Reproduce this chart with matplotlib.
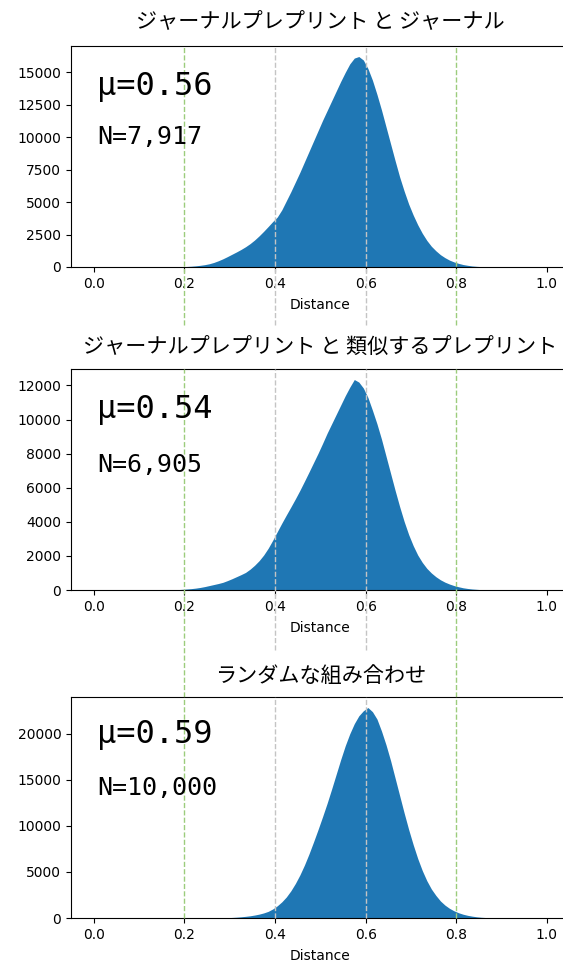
import numpy as np
import matplotlib
matplotlib.use("Agg")
import matplotlib.pyplot as plt

# histogram bin centres (step 0.01) and counts in thousands
centers_jj = np.round(np.arange(0.205, 0.87, 0.01), 3)
counts_jj = [0.04, 0.06, 0.09, 0.13, 0.18, 0.25, 0.35, 0.48, 0.63, 0.80,
             0.98, 1.16, 1.35, 1.56, 1.80, 2.08, 2.40, 2.75, 3.12, 3.50,
             3.85, 4.40, 5.10, 5.80, 6.55, 7.30, 8.10, 8.90, 9.70, 10.50,
             11.30, 12.05, 12.80, 13.55, 14.30, 15.00, 15.65, 16.10, 16.22, 15.95,
             15.30, 14.40, 13.30, 12.10, 10.80, 9.50, 8.20, 6.95, 5.85, 4.85,
             4.00, 3.25, 2.60, 2.05, 1.60, 1.25, 0.95, 0.72, 0.53, 0.39,
             0.28, 0.19, 0.13, 0.08, 0.05, 0.03, 0.02]

centers_js = np.round(np.arange(0.185, 0.86, 0.01), 3)
counts_js = [0.02, 0.04, 0.06, 0.08, 0.11, 0.15, 0.20, 0.26, 0.32, 0.38,
             0.45, 0.55, 0.66, 0.78, 0.90, 1.03, 1.22, 1.45, 1.72, 2.05,
             2.45, 2.92, 3.42, 3.92, 4.40, 4.87, 5.35, 5.85, 6.38, 6.92,
             7.47, 8.02, 8.60, 9.20, 9.75, 10.30, 10.85, 11.40, 11.90, 12.35,
             12.20, 11.85, 11.30, 10.55, 9.75, 8.85, 7.85, 6.85, 5.85, 4.90,
             4.02, 3.25, 2.60, 2.05, 1.62, 1.27, 1.00, 0.78, 0.60, 0.46,
             0.35, 0.26, 0.19, 0.13, 0.09, 0.06, 0.04, 0.02]

centers_rnd = np.round(np.arange(0.285, 0.88, 0.01), 3)
counts_rnd = [0.02, 0.04, 0.06, 0.09, 0.13, 0.18, 0.24, 0.32, 0.42, 0.55,
              0.72, 0.98, 1.32, 1.75, 2.28, 2.95, 3.75, 4.68, 5.75, 6.95,
              8.25, 9.60, 11.00, 12.45, 14.00, 15.60, 17.20, 18.70, 20.00, 21.10,
              21.95, 22.50, 22.85, 22.40, 21.60, 20.30, 18.80, 17.10, 15.20, 13.30,
              11.40, 9.60, 7.95, 6.45, 5.15, 4.05, 3.15, 2.45, 1.85, 1.40,
              1.05, 0.78, 0.57, 0.41, 0.29, 0.20, 0.13, 0.08, 0.05, 0.03]

titles = ["ジャーナルプレプリント と ジャーナル",
          "ジャーナルプレプリント と 類似するプレプリント",
          "ランダムな組み合わせ"]
means = [0.56, 0.54, 0.59]
sizes = [7917, 6905, 10000]
yticks = [np.arange(0, 15001, 2500), np.arange(0, 12001, 2000), np.arange(0, 20001, 5000)]

panels = [(centers_jj, counts_jj), (centers_js, counts_js), (centers_rnd, counts_rnd)]

fig = plt.figure(figsize=(5.63, 9.67), dpi=100)

left, width, height = 71 / 563, (569.6 - 71) / 563, 221 / 967
bottoms = [1 - 267 / 967, 1 - 590 / 967, 1 - 918 / 967]
# how far the dashed guide lines run below each panel (axes fraction)
gray_ext = [-0.262, -0.27, 0.0]
green_ext = [-0.262, -0.484, 0.0]
text_y = [(0.815, 0.59), (0.815, 0.565), (0.83, 0.59)]
title_pad = [13, 11, 11]

gray = "#c4c4c4"
green = "#9ccc7c"

for i, (centers, counts) in enumerate(panels):
	ax = fig.add_axes([left, bottoms[i], width, height])
	heights = np.array(counts) * 1000
	ax.fill_between(centers, 0, heights, color="#1f77b4", linewidth=0)
	ax.set_xlim(-0.05, 1.05)
	ax.set_ylim(0, heights.max() * 1.05)
	ax.set_yticks(yticks[i])
	ax.set_xticks(np.round(np.arange(0, 1.01, 0.2), 1))
	ax.set_xlabel("Distance", fontsize=10, labelpad=5)
	ax.set_title(titles[i], fontsize=15.2, family=["Noto Sans CJK JP", "DejaVu Sans"], pad=title_pad[i])

	for x in (0.4, 0.6):
		ax.axvline(x, ymin=gray_ext[i], ymax=1, color=gray, linestyle="--", linewidth=1, clip_on=False, zorder=3)
	for x in (0.2, 0.8):
		ax.axvline(x, ymin=green_ext[i], ymax=1, color=green, linestyle="--", linewidth=1, clip_on=False, zorder=3)

	ax.text(0.052, text_y[i][0], "μ={:.2f}".format(means[i]), transform=ax.transAxes,
			family="DejaVu Sans Mono", fontsize=23, va="center", ha="left")
	ax.text(0.052, text_y[i][1], "N={:,}".format(sizes[i]), transform=ax.transAxes,
			family="DejaVu Sans Mono", fontsize=18, va="center", ha="left")

fig.savefig("out.png", dpi=100)
